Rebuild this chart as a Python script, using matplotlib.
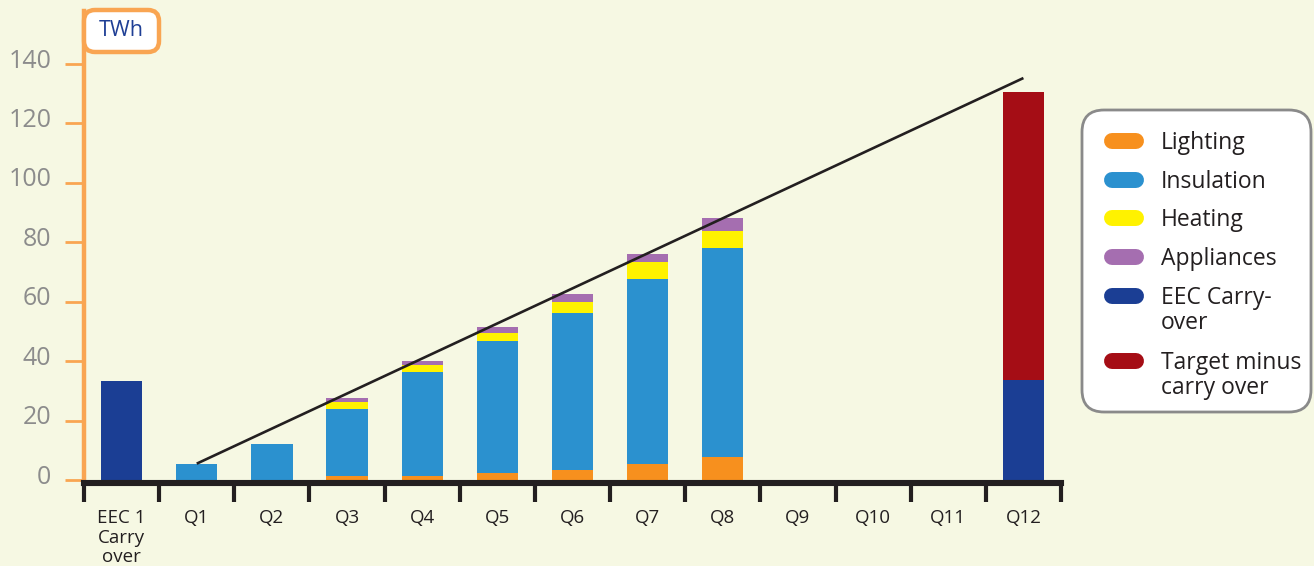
import matplotlib.pyplot as plt
from matplotlib.patches import FancyBboxPatch
from matplotlib.transforms import ScaledTranslation
import numpy as np

plt.rcParams['font.family'] = ['Open Sans', 'DejaVu Sans']

# categories along the x axis
categories = ['EEC 1\nCarry\nover', 'Q1', 'Q2', 'Q3', 'Q4', 'Q5', 'Q6',
              'Q7', 'Q8', 'Q9', 'Q10', 'Q11', 'Q12']

# stacked series, TWh
lighting = [0, 0, 0, 1.3, 1.3, 2.4, 3.4, 5.4, 7.7, 0, 0, 0, 0]
insulation = [0, 5.5, 12.0, 22.6, 35.1, 44.4, 52.8, 62.3, 70.4, 0, 0, 0, 0]
heating = [0, 0, 0, 2.4, 2.3, 2.7, 3.7, 5.7, 5.7, 0, 0, 0, 0]
appliances = [0, 0, 0, 1.3, 1.3, 2.0, 2.7, 2.7, 4.4, 0, 0, 0, 0]
eec_carry = [33.2, 0, 0, 0, 0, 0, 0, 0, 0, 0, 0, 0, 33.7]
target_minus = [0, 0, 0, 0, 0, 0, 0, 0, 0, 0, 0, 0, 96.9]

# straight target trajectory (Q1 -> Q12)
traj_x = [1, 12]
traj_y = [5.5, 135.3]

yticks = [0, 20, 40, 60, 80, 100, 120, 140]

legend_labels = ['Lighting', 'Insulation', 'Heating', 'Appliances',
                 'EEC Carry-\nover', 'Target minus\ncarry over']
legend_colors = ['#F7901E', '#2B91CF', '#FFF200', '#A56EB0', '#1B3E94', '#A50D15']

bg = '#F6F8E3'
orange_axis = '#F9A552'
dark = '#231F20'

fig = plt.figure(figsize=(13.14, 5.66), dpi=100, facecolor=bg)
ax = fig.add_axes([84 / 1314, 86 / 566, 977 / 1314, 469.4 / 566])
ax.set_facecolor(bg)

x = np.arange(len(categories))
w = 0.55
series = [lighting, insulation, heating, appliances, eec_carry, target_minus]
bottom = np.zeros(len(categories))
for vals, col in zip(series, legend_colors):
    vals = np.array(vals, dtype=float)
    ax.bar(x, vals, width=w, bottom=bottom, color=col, linewidth=0, zorder=2)
    bottom += vals

ax.plot(traj_x, traj_y, color=dark, lw=1.9, zorder=3, solid_capstyle='butt')

ax.set_xlim(-0.5, 12.5)
ax.set_ylim(0, 158)

for s in ['top', 'right']:
    ax.spines[s].set_visible(False)
ax.spines['left'].set_color(orange_axis)
ax.spines['left'].set_linewidth(3.2)
ax.spines['bottom'].set_color(dark)
ax.spines['bottom'].set_linewidth(4.4)
ax.spines['bottom'].set_position(('outward', 2.2))
ax.spines['bottom'].set_zorder(4)

ax.set_yticks(yticks)
ax.tick_params(axis='y', colors=orange_axis, length=13.5, width=2, pad=10,
               labelsize=18, labelcolor='#8C8C8C')
# labels sit a little above their ticks in the original
lift = ScaledTranslation(0, 6 / 100, fig.dpi_scale_trans)
for lbl in ax.get_yticklabels():
    lbl.set_transform(lbl.get_transform() + lift)

ax.set_xticks(x)
ax.set_xticklabels(categories, fontsize=13.5, color=dark, linespacing=1.1)
ax.set_xticks(np.arange(-0.5, 13, 1), minor=True)
ax.tick_params(axis='x', which='major', length=0, pad=19)
ax.tick_params(axis='x', which='minor', length=13.5, width=3, color=dark)

# overlay in pixel coordinates for the unit box and the legend
ov = fig.add_axes([0, 0, 1, 1])
ov.set_xlim(0, 1314)
ov.set_ylim(566, 0)
ov.axis('off')

ov.add_patch(FancyBboxPatch((84, 10), 75, 42, boxstyle='round,pad=0,rounding_size=11',
                            fc='white', ec=orange_axis, lw=3.2))
ov.text(121.5, 31, 'TWh', ha='center', va='center', fontsize=15.5, color='#1F3F95')

ov.add_patch(FancyBboxPatch((1082, 110), 229, 302, boxstyle='round,pad=0,rounding_size=22',
                            fc='white', ec='#8A8A8A', lw=2))
sw_y = [141, 180, 218, 257, 296, 361]
for yy, lab, col in zip(sw_y, legend_labels, legend_colors):
    ov.plot([1112, 1136], [yy, yy], color=col, lw=11.5, solid_capstyle='round')
    ov.text(1161, yy - 10, lab, ha='left', va='top', fontsize=16.5, color=dark,
            linespacing=1.08)

fig.savefig('out.png', dpi=100, facecolor=bg)
